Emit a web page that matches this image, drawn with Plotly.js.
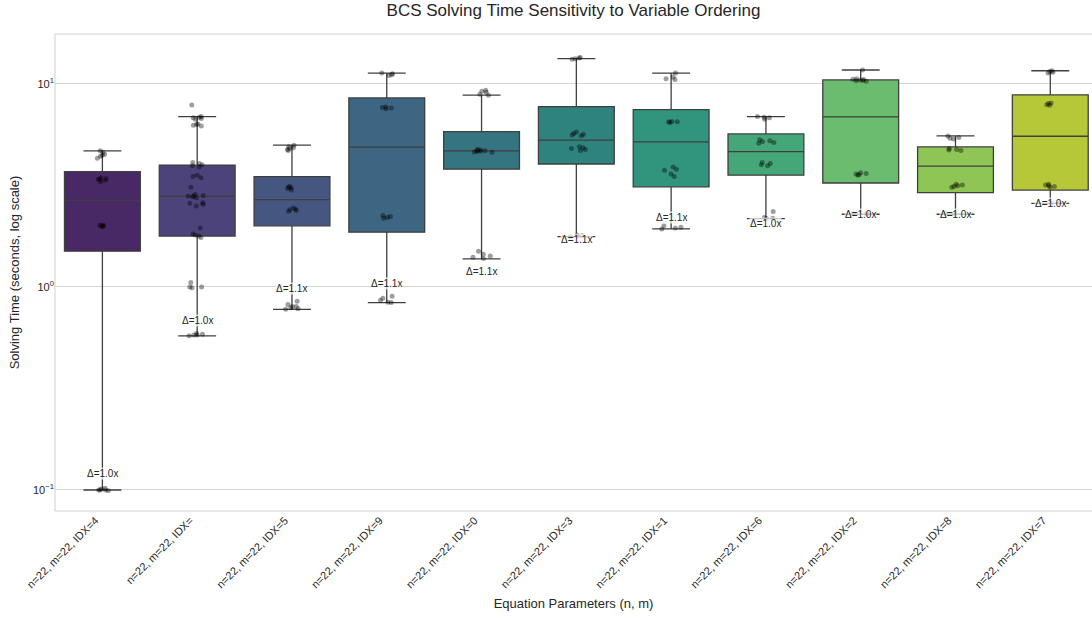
<!DOCTYPE html>
<html>
<head>
<meta charset="utf-8">
<script src="https://cdn.plot.ly/plotly-3.0.1.min.js"></script>
<style>html,body{margin:0;padding:0;background:#fff;}#chart{width:1092px;height:620px;}</style>
</head>
<body>
<div id="chart"></div>
<script>
// ---------- data ----------
var categories = [
  "n=22, m=22, IDX=4", "n=22, m=22, IDX=", "n=22, m=22, IDX=5", "n=22, m=22, IDX=9",
  "n=22, m=22, IDX=0", "n=22, m=22, IDX=3", "n=22, m=22, IDX=1", "n=22, m=22, IDX=6",
  "n=22, m=22, IDX=2", "n=22, m=22, IDX=8", "n=22, m=22, IDX=7"
];
// box statistics (seconds)
var q1Values     = [1.50, 1.78, 2.00, 1.86, 3.80, 4.03, 3.11, 3.55, 3.25, 2.91, 3.00];
var medianValues = [2.67, 2.79, 2.69, 4.88, 4.68, 5.28, 5.18, 4.64, 6.88, 3.93, 5.52];
var q3Values     = [3.70, 3.98, 3.49, 8.53, 5.82, 7.73, 7.47, 5.67, 10.46, 4.89, 8.83];
var lowerWhisker = [0.100, 0.574, 0.776, 0.837, 1.375, 1.77, 1.93, 2.17, 2.28, 2.28, 2.58];
var upperWhisker = [4.68, 6.90, 4.99, 11.3, 8.80, 13.3, 11.3, 6.90, 11.7, 5.54, 11.6];
// individual runs (seconds)
var runsIdx4 = [4.68, 4.6, 4.5, 4.45, 4.4, 4.3, 3.45, 3.4, 3.38, 3.35, 3.3, 3.42, 2.02, 2.0, 1.99, 2.01, 1.98, 0.101, 0.1, 0.1, 0.102, 0.099, 0.1];
var runsIdxBlank = [7.87, 6.9, 6.85, 6.8, 6.7, 6.75, 6.3, 6.25, 6.35, 6.2, 4.05, 4.0, 3.95, 4.1, 3.9, 3.55, 3.45, 3.5, 3.1, 2.82, 2.8, 2.78, 2.85, 2.75, 2.8, 2.6, 2.55, 2.5, 2.58, 1.95, 1.82, 1.8, 1.78, 1.75, 1.05, 1.0, 0.99, 1.0, 0.59, 0.58, 0.575, 0.58, 0.585];
var runsIdx5 = [4.99, 4.9, 4.85, 4.8, 4.75, 4.7, 3.1, 3.05, 3.0, 3.08, 3.12, 2.45, 2.4, 2.38, 2.42, 2.36, 0.85, 0.82, 0.8, 0.79, 0.78, 0.776, 0.8];
var runsIdx9 = [11.3, 11.1, 11.0, 11.2, 7.7, 7.6, 7.55, 7.65, 2.25, 2.22, 2.2, 2.18, 0.9, 0.88, 0.86, 0.84, 0.837];
var runsIdx0 = [9.3, 9.2, 9.1, 8.9, 8.8, 4.75, 4.7, 4.68, 4.65, 4.6, 4.72, 4.66, 4.62, 1.5, 1.45, 1.42, 1.4, 1.38];
var runsIdx3 = [13.5, 13.3, 13.4, 13.2, 5.8, 5.6, 5.55, 5.65, 5.7, 4.9, 4.8, 4.75, 4.85, 4.7, 1.8, 1.78, 1.77, 1.79];
var runsIdx1 = [11.3, 10.8, 10.6, 10.5, 6.5, 6.5, 6.45, 6.52, 3.9, 3.75, 3.6, 3.5, 3.8, 2.0, 1.97, 1.95, 1.93];
var runsIdx6 = [6.9, 6.8, 6.7, 6.85, 5.3, 5.2, 5.1, 5.25, 5.15, 4.1, 4.05, 4.0, 3.95, 2.35, 2.2, 2.18, 2.17];
var runsIdx2 = [11.7, 10.6, 10.5, 10.4, 10.45, 10.55, 10.3, 10.35, 3.65, 3.6, 3.55, 3.58, 3.62, 2.3, 2.28, 2.29];
var runsIdx8 = [5.54, 5.45, 5.4, 5.35, 4.8, 4.75, 4.7, 4.72, 3.2, 3.15, 3.1, 3.12, 3.18, 2.3, 2.28];
var runsIdx7 = [11.6, 11.4, 11.3, 11.5, 8.0, 7.9, 7.85, 8.05, 3.2, 3.15, 3.1, 3.18, 3.12, 2.6, 2.58];
var runsByCategory = [runsIdx4, runsIdxBlank, runsIdx5, runsIdx9, runsIdx0, runsIdx3, runsIdx1, runsIdx6, runsIdx2, runsIdx8, runsIdx7];
// sensitivity labels
var deltaLabels = ["Δ=1.0x", "Δ=1.0x", "Δ=1.1x", "Δ=1.1x", "Δ=1.1x", "Δ=1.1x", "Δ=1.1x", "Δ=1.0x", "Δ=1.0x", "Δ=1.0x", "Δ=1.0x"];
var deltaLabelY = [0.12, 0.681, 0.986, 1.04, 1.19, 1.71, 2.20, 2.06, 2.28, 2.28, 2.58];
var yTickVals = [0.1, 1, 10];
var yTickText = ["10<sup>−1</sup>", "10<sup>0</sup>", "10<sup>1</sup>"];
var basePalette = ["#481f70", "#443a83", "#3b528b", "#31688e", "#287c8e", "#21918c", "#20a486", "#35b779", "#5ec962", "#90d743", "#c8e020"];

// ---------- helpers ----------
function desaturate(hex, prop) {
  var r = parseInt(hex.substr(1,2),16)/255, g = parseInt(hex.substr(3,2),16)/255, b = parseInt(hex.substr(5,2),16)/255;
  var maxc = Math.max(r,g,b), minc = Math.min(r,g,b);
  var l = (minc+maxc)/2, h = 0, s = 0;
  if (maxc !== minc) {
    s = l <= 0.5 ? (maxc-minc)/(maxc+minc) : (maxc-minc)/(2-maxc-minc);
    var rc = (maxc-r)/(maxc-minc), gc = (maxc-g)/(maxc-minc), bc = (maxc-b)/(maxc-minc);
    if (r === maxc) h = bc-gc; else if (g === maxc) h = 2+rc-bc; else h = 4+gc-rc;
    h = ((h/6)%1+1)%1;
  }
  s *= prop;
  function v(m1,m2,hue){ hue = ((hue%1)+1)%1; if (hue<1/6) return m1+(m2-m1)*hue*6; if (hue<0.5) return m2; if (hue<2/3) return m1+(m2-m1)*(2/3-hue)*6; return m1; }
  var m2 = l <= 0.5 ? l*(1+s) : l+s-l*s, m1 = 2*l-m2;
  var rr = s===0? l : v(m1,m2,h+1/3), gg = s===0? l : v(m1,m2,h), bb = s===0? l : v(m1,m2,h-1/3);
  return "rgb(" + Math.round(rr*255) + "," + Math.round(gg*255) + "," + Math.round(bb*255) + ")";
}

var traces = [];
categories.forEach(function(cat, i) {
  traces.push({
    type: "box", x: [cat],
    q1: [q1Values[i]], median: [medianValues[i]], q3: [q3Values[i]],
    lowerfence: [lowerWhisker[i]], upperfence: [upperWhisker[i]],
    fillcolor: desaturate(basePalette[i], 0.75),
    line: {color: "#3f3f3f", width: 1.3},
    whiskerwidth: 0.5, width: 0.8, boxpoints: false,
    showlegend: false, hoverinfo: "skip"
  });
});
var px = [], py = [];
categories.forEach(function(cat, i) {
  runsByCategory[i].forEach(function(v) { px.push(cat); py.push(v); });
});
traces.push({
  type: "box", x: px, y: py, boxpoints: "all", jitter: 0.3, pointpos: 0,
  fillcolor: "rgba(0,0,0,0)", line: {width: 0, color: "rgba(0,0,0,0)"},
  whiskerwidth: 0, width: 0.8,
  marker: {size: 5, color: "rgba(0,0,0,0.38)", line: {width: 0}},
  showlegend: false, hoverinfo: "skip"
});

var annotations = categories.map(function(cat, i) {
  return {
    x: cat, y: Math.log10(deltaLabelY[i]), xref: "x", yref: "y",
    text: deltaLabels[i], showarrow: false, xanchor: "center", yanchor: "middle",
    font: {family: "Liberation Sans, Arial, sans-serif", size: 10, color: "#262626"},
    bgcolor: "rgba(255,255,255,0.7)", borderpad: 0
  };
});

var layout = {
  width: 1092, height: 620,
  margin: {l: 55, r: 0, t: 34, b: 109, autoexpand: false},
  paper_bgcolor: "#ffffff", plot_bgcolor: "#ffffff",
  font: {family: "Liberation Sans, Arial, sans-serif", color: "#262626"},
  title: {text: "BCS Solving Time Sensitivity to Variable Ordering", x: 0.5, xref: "paper", y: 1 - 10/620, yref: "container", yanchor: "middle",
          font: {size: 17, color: "#262626"}},
  boxmode: "overlay",
  xaxis: {
    type: "category", categoryorder: "array", categoryarray: categories,
    range: [-0.5, 10.44], tickangle: -45, tickfont: {size: 11, color: "#262626"}, ticklabelshift: -7,
    showgrid: false, showline: false, zeroline: false, ticks: "", automargin: false,
    title: {text: "Equation Parameters (n, m)", font: {size: 13, color: "#262626"}, standoff: 9}
  },
  yaxis: {
    type: "log", range: [Math.log10(0.0788), Math.log10(17.6)],
    tickvals: yTickVals, ticktext: yTickText, tickfont: {size: 11, color: "#262626"},
    showgrid: true, gridcolor: "#d6d6d6", gridwidth: 1, showline: false, zeroline: false, ticks: "", automargin: false,
    title: {text: "Solving Time (seconds, log scale)", font: {size: 13, color: "#262626"}, standoff: 10}
  },
  shapes: [{type: "rect", xref: "paper", yref: "paper", x0: 0, x1: 1.01, y0: 0, y1: 1,
            line: {color: "#cfcfcf", width: 1}, layer: "below"}],
  annotations: annotations
};

Plotly.newPlot("chart", traces, layout, {staticPlot: true, displayModeBar: false});
</script>
</body>
</html>
